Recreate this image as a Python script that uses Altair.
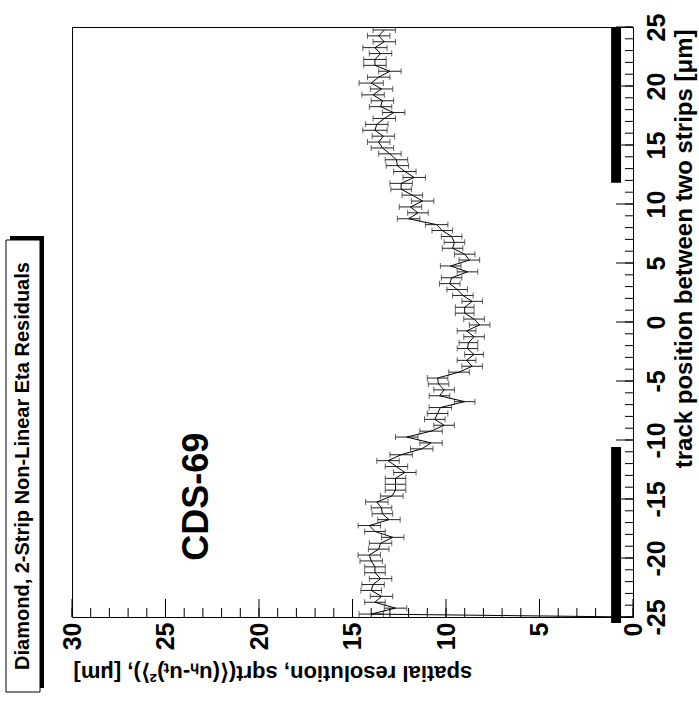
import altair as alt
import pandas as pd

# ---- data ----
positions = [-25.0,
    -24.75, -24.25, -23.75, -23.25, -22.75, -22.25, -21.75, -21.25, -20.75, -20.25,
    -19.75, -19.25, -18.75, -18.25, -17.75, -17.25, -16.75, -16.25, -15.75, -15.25,
    -14.75, -14.25, -13.75, -13.25, -12.75, -12.25, -11.75, -11.25, -10.75, -10.25,
    -9.75, -9.25, -8.75, -8.25, -7.75, -7.25, -6.75, -6.25, -5.75, -5.25,
    -4.75, -4.25, -3.75, -3.25, -2.75, -2.25, -1.75, -1.25, -0.75, -0.25,
    0.25, 0.75, 1.25, 1.75, 2.25, 2.75, 3.25, 3.75, 4.25, 4.75,
    5.25, 5.75, 6.25, 6.75, 7.25, 7.75, 8.25, 8.75, 9.25, 9.75,
    10.25, 10.75, 11.25, 11.75, 12.25, 12.75, 13.25, 13.75, 14.25, 14.75,
    15.25, 15.75, 16.25, 16.75, 17.25, 17.75, 18.25, 18.75, 19.25, 19.75,
    20.25, 20.75, 21.25, 21.75, 22.25, 22.75, 23.25, 23.75, 24.25, 24.75]

resolution = [0.0,
    14.0, 12.7, 13.8, 13.45, 14.0, 13.9, 13.5, 13.8, 13.8, 14.0,
    14.1, 13.6, 13.5, 12.85, 13.8, 14.1, 13.05, 13.4, 13.45, 13.7,
    12.9, 12.7, 12.7, 12.7, 12.2, 12.65, 13.1, 12.4, 11.3, 10.8,
    12.1, 10.8, 10.1, 10.6, 10.45, 10.3, 9.0, 10.35, 10.1, 10.4,
    10.45, 9.3, 8.6, 8.9, 8.5, 8.85, 8.8, 8.5, 8.9, 8.2,
    8.5, 9.0, 9.0, 8.6, 9.1, 9.4, 9.8, 9.7, 8.85, 9.75,
    8.75, 9.0, 9.65, 9.55, 9.7, 10.2, 10.5, 12.0, 11.5, 11.9,
    11.25, 11.8, 12.4, 12.4, 11.7, 12.2, 12.6, 12.65, 13.0, 13.4,
    13.6, 13.35, 13.8, 13.7, 13.3, 12.8, 13.5, 13.4, 13.9, 13.45,
    14.0, 13.6, 13.0, 13.8, 13.8, 13.5, 13.8, 13.3, 13.6, 13.3]

errors = [0.0,
    0.65, 0.6, 0.55, 0.6, 0.55, 0.6, 0.6, 0.55, 0.55, 0.6,
    0.6, 0.55, 0.6, 0.6, 0.55, 0.6, 0.6, 0.55, 0.55, 0.6,
    0.6, 0.55, 0.55, 0.55, 0.6, 0.6, 0.6, 0.6, 0.6, 0.6,
    0.6, 0.6, 0.55, 0.55, 0.55, 0.6, 0.55, 0.55, 0.55, 0.55,
    0.55, 0.55, 0.55, 0.5, 0.5, 0.55, 0.5, 0.55, 0.5, 0.55,
    0.55, 0.5, 0.5, 0.55, 0.55, 0.55, 0.55, 0.55, 0.55, 0.55,
    0.55, 0.55, 0.55, 0.55, 0.55, 0.55, 0.6, 0.6, 0.55, 0.6,
    0.6, 0.55, 0.55, 0.6, 0.6, 0.6, 0.6, 0.6, 0.6, 0.6,
    0.6, 0.6, 0.65, 0.6, 0.6, 0.6, 0.6, 0.6, 0.6, 0.6,
    0.65, 0.6, 0.6, 0.6, 0.6, 0.6, 0.65, 0.6, 0.6, 0.6]

strip_pos_lo = [-25.5, 11.8]
strip_pos_hi = [-10.6, 25.0]
strip_val_lo = [0.64, 0.64]
strip_val_hi = [1.17, 1.17]

value_major = [0, 5, 10, 15, 20, 25, 30]
value_minor = list(range(0, 31))
pos_major = [-25, -20, -15, -10, -5, 0, 5, 10, 15, 20, 25]
pos_minor = list(range(-25, 26))

title_text = "Diamond, 2-Strip Non-Linear Eta Residuals"
label_text = "CDS-69"
x_title = "spatial resolution, sqrt(\u27e8(u\u2095-u\u209c)\u00b2\u27e9), [\u03bcm]"
y_title = "track position between two strips [\u03bcm]"

# ---- build ----
W, H = 561, 590
FONT = "Liberation Sans"

df = pd.DataFrame({"p": positions, "v": resolution, "e": errors})
df["lo"] = df["v"] - df["e"]
df["hi"] = df["v"] + df["e"]
err_df = df[df["e"] > 0]

xs = alt.Scale(domain=[0, 30], reverse=True, nice=False, zero=False)
ys = alt.Scale(domain=[-25, 25], nice=False, zero=False)

xaxis = alt.Axis(values=value_major, labelExpr="'' + datum.value", labelAngle=270,
                 labelAlign="right", labelBaseline="middle", labelFont=FONT,
                 labelFontWeight="bold", labelFontSize=25, labelColor="black",
                 labelPadding=5, labelFlush=False, labelOverlap=False,
                 ticks=False, domain=False, grid=False,
                 title=x_title, titleAngle=180, titleAlign="right", titleBaseline="middle",
                 titleX=1, titleY=55, titleFont=FONT, titleFontSize=22,
                 titleFontWeight="bold", titleColor="black")
yaxis = alt.Axis(orient="right", values=pos_major, labelExpr="'' + datum.value",
                 labelAngle=270, labelAlign="center", labelBaseline="top",
                 labelFont=FONT, labelFontWeight="bold", labelFontSize=25,
                 labelColor="black", labelPadding=11, labelFlush=False, labelOverlap=False,
                 ticks=False, domain=False, grid=False,
                 title=y_title, titleAngle=270, titleAlign="right", titleBaseline="middle",
                 titleX=51, titleY=2, titleFont=FONT, titleFontSize=24,
                 titleFontWeight="bold", titleColor="black")


def X(field):
    return alt.X(field, type="quantitative", scale=xs, axis=xaxis)


def Y(field):
    return alt.Y(field, type="quantitative", scale=ys, axis=yaxis)


strips = alt.Chart(pd.DataFrame({"p0": strip_pos_lo, "p1": strip_pos_hi,
                                 "v0": strip_val_lo, "v1": strip_val_hi})).mark_rect(
    color="black").encode(x=X("v0"), x2="v1", y=Y("p0"), y2="p1")

line = alt.Chart(df).mark_line(color="black", strokeWidth=1).encode(
    x=X("v"), y=Y("p"), order="p:Q")

bars = alt.Chart(err_df).mark_rule(color="#222222", strokeWidth=1).encode(
    x=X("lo"), x2="hi", y=Y("p"))
cap_lo = alt.Chart(err_df).mark_tick(orient="vertical", size=6, thickness=1,
                                     color="#222222").encode(x=X("lo"), y=Y("p"))
cap_hi = alt.Chart(err_df).mark_tick(orient="vertical", size=6, thickness=1,
                                     color="#222222").encode(x=X("hi"), y=Y("p"))

vt_major = alt.Chart(pd.DataFrame({"t": value_major})).mark_rule(color="black").encode(
    x=X("t"), y=alt.value(H - 18), y2=alt.value(H))
vt_minor = alt.Chart(pd.DataFrame({"t": value_minor})).mark_rule(color="black").encode(
    x=X("t"), y=alt.value(H - 9), y2=alt.value(H))
pt_major = alt.Chart(pd.DataFrame({"t": pos_major})).mark_rule(color="black").encode(
    y=Y("t"), x=alt.value(W - 17), x2=alt.value(W))
pt_minor = alt.Chart(pd.DataFrame({"t": pos_minor})).mark_rule(color="black").encode(
    y=Y("t"), x=alt.value(W - 8), x2=alt.value(W))

cds = alt.Chart(pd.DataFrame({"v": [23.3], "p": [-14.8], "t": [label_text]})).mark_text(
    angle=270, font=FONT, fontWeight="bold", fontSize=36, color="black",
    align="center", baseline="middle").encode(x=X("v"), y=Y("p"), text="t:N")

shadow = alt.Chart(pd.DataFrame({"a": [0]})).mark_rect(color="black").encode(
    x=alt.value(-62), x2=alt.value(-28), y=alt.value(209), y2=alt.value(661))
box = alt.Chart(pd.DataFrame({"a": [0]})).mark_rect(
    fill="white", stroke="black", strokeWidth=1).encode(
    x=alt.value(-66), x2=alt.value(-32), y=alt.value(213), y2=alt.value(665))
title = alt.Chart(pd.DataFrame({"t": [title_text]})).mark_text(
    angle=270, font=FONT, fontWeight="bold", fontSize=20, color="black",
    align="center", baseline="middle").encode(
    x=alt.value(-49), y=alt.value(439), text="t:N")

chart = alt.layer(
    strips, bars, cap_lo, cap_hi, line, vt_major, vt_minor, pt_major, pt_minor,
    cds, shadow, box, title
).properties(
    width=W, height=H,
    autosize=alt.AutoSizeParams(type="none"),
    padding={"left": 72, "top": 27, "right": 66, "bottom": 89},
    background="white",
).configure_view(stroke="black", strokeWidth=1)

chart.save("out.html", embed_options={"renderer": "svg", "actions": False})
